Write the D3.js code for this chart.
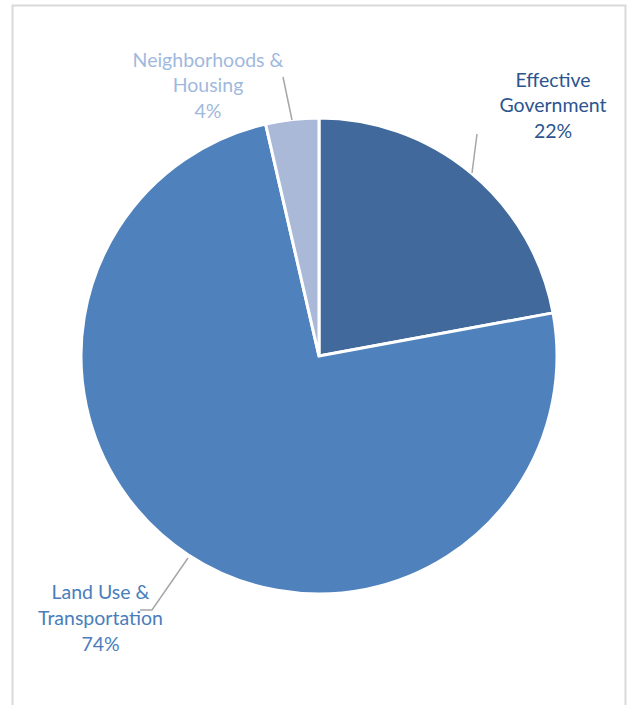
<!DOCTYPE html>
<html><head><meta charset="utf-8">
<script src="https://cdn.jsdelivr.net/npm/d3@7"></script>
<style>html,body{margin:0;padding:0;background:#fff;}</style>
</head><body>
<svg id="c" width="629" height="705"></svg>
<script>
const categories = ["Effective Government", "Land Use & Transportation", "Neighborhoods & Housing"];
const values = [22.1, 74.3, 3.6];
const pctLabels = ["22%", "74%", "4%"];
const labelLines = [["Effective", "Government", "22%"], ["Land Use &", "Transportation", "74%"], ["Neighborhoods &", "Housing", "4%"]];
const sliceColors = ["#41699c", "#4f81bd", "#aab9d8"];
const textColors = ["#2c5590", "#4a7ebb", "#9fb9de"];

const svg = d3.select("#c");
svg.append("rect").attr("x", 12.5).attr("y", 5.5).attr("width", 613).attr("height", 720)
  .attr("fill", "#fff").attr("stroke", "#d9d9d9").attr("stroke-width", 2);

const cx = 319, cy = 356, r = 238;
const g = svg.append("g").attr("transform", `translate(${cx},${cy})`);
const pie = d3.pie().sort(null).value(d => d);
const arcs = pie(values);
const arc = d3.arc().innerRadius(0).outerRadius(r);
g.selectAll("path").data(arcs).join("path")
  .attr("d", arc).attr("fill", (d, i) => sliceColors[i])
  .attr("stroke", "#fff").attr("stroke-width", 3).attr("stroke-linejoin", "miter");

// label positions (text centers) and leader lines
const labelPos = [[553, 86.7], [100.5, 599.3], [208, 66.7]];
const leaders = [
  [[477, 134], [472, 173]],
  [[140, 610], [152, 610], [188, 558]],
  [[283, 77], [292, 120]]
];
const line = d3.line();
svg.selectAll("path.leader").data(leaders).join("path")
  .attr("class", "leader").attr("d", d => line(d))
  .attr("fill", "none").attr("stroke", "#a6a6a6").attr("stroke-width", 1.5);

labelLines.forEach((lines, i) => {
  const t = svg.append("text").attr("text-anchor", "middle")
    .attr("font-family", "Lato, 'Open Sans', sans-serif").attr("font-size", 19.5)
    .attr("fill", textColors[i]);
  lines.forEach((s, j) => {
    t.append("tspan").attr("x", labelPos[i][0]).attr("y", labelPos[i][1] + j * 25.7).text(s);
  });
});
</script>
</body></html>
